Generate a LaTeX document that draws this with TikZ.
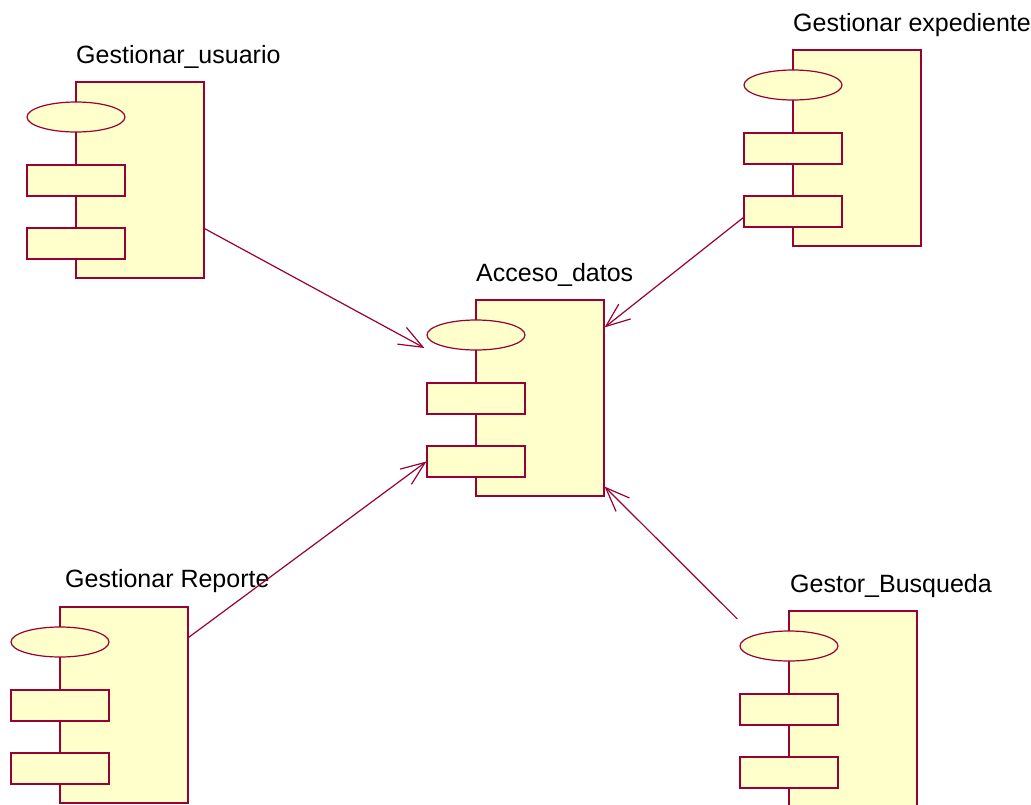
\documentclass[tikz,border=0pt]{standalone}
\usepackage{fontspec}
\setmainfont{Liberation Sans}
\usetikzlibrary{shapes.geometric,arrows.meta,calc}

\definecolor{rosered}{RGB}{153,0,51}
\definecolor{roseyellow}{RGB}{255,255,204}

\begin{document}
\begin{tikzpicture}[x=1pt,y=-1pt,
  comp/.style={draw=rosered,fill=roseyellow,line width=1.2pt,inner sep=0pt},
  body/.style={comp,rectangle,minimum width=128pt,minimum height=196pt},
  iface/.style={comp,ellipse,minimum width=98pt,minimum height=30pt},
  port/.style={comp,rectangle,minimum width=98pt,minimum height=31pt},
  title/.style={anchor=base west,inner sep=0pt,font=\fontsize{25}{29}\selectfont},
  dep/.style={draw=rosered,line width=1.2pt,-{Straight Barb[length=24pt,width=19pt]}}]
\useasboundingbox (0,0) rectangle (1031,804);

% Gestionar_usuario
\node[body] (usr) at (140,180) {};
\node[iface] (usr-e) at (76,117) {};
\node[port] (usr-p1) at (76,180.5) {};
\node[port] (usr-p2) at (76,243.5) {};
\node[title] (usr-t) at (76,63) {Gestionar\_usuario};

% Gestionar expediente
\node[body] (exp) at (857,148) {};
\node[iface] (exp-e) at (793,85) {};
\node[port] (exp-p1) at (793,148.5) {};
\node[port] (exp-p2) at (793,211.5) {};
\node[title] (exp-t) at (793,31) {Gestionar expediente};

% Acceso_datos
\node[body] (acc) at (540,398) {};
\node[iface] (acc-e) at (476,335) {};
\node[port] (acc-p1) at (476,398.5) {};
\node[port] (acc-p2) at (476,461.5) {};
\node[title] (acc-t) at (476,281) {Acceso\_datos};

% Gestionar Reporte
\node[body] (rep) at (124,705) {};
\node[iface] (rep-e) at (60,642) {};
\node[port] (rep-p1) at (60,705.5) {};
\node[port] (rep-p2) at (60,768.5) {};
\node[title] (rep-t) at (65,587) {Gestionar Reporte};

% Gestor_Busqueda
\node[body] (bus) at (853,709) {};
\node[iface] (bus-e) at (789,646) {};
\node[port] (bus-p1) at (789,709.5) {};
\node[port] (bus-p2) at (789,772.5) {};
\node[title] (bus-t) at (790,592) {Gestor\_Busqueda};

% dependencies
\draw[dep] ($(usr.south east)+(0,-50)$) -- ($(acc-e.west)+(-2,13)$);
\draw[dep] ($(rep.north east)+(0,31)$) -- (acc-p2.west);
\draw[dep] ($(exp-p2.west)+(0,6)$) -- ($(acc.north east)+(0,28)$);
\draw[dep] ($(bus-e.west)+(-2,-27)$) -- ($(acc.south east)+(0,-10)$);
\end{tikzpicture}
\end{document}
